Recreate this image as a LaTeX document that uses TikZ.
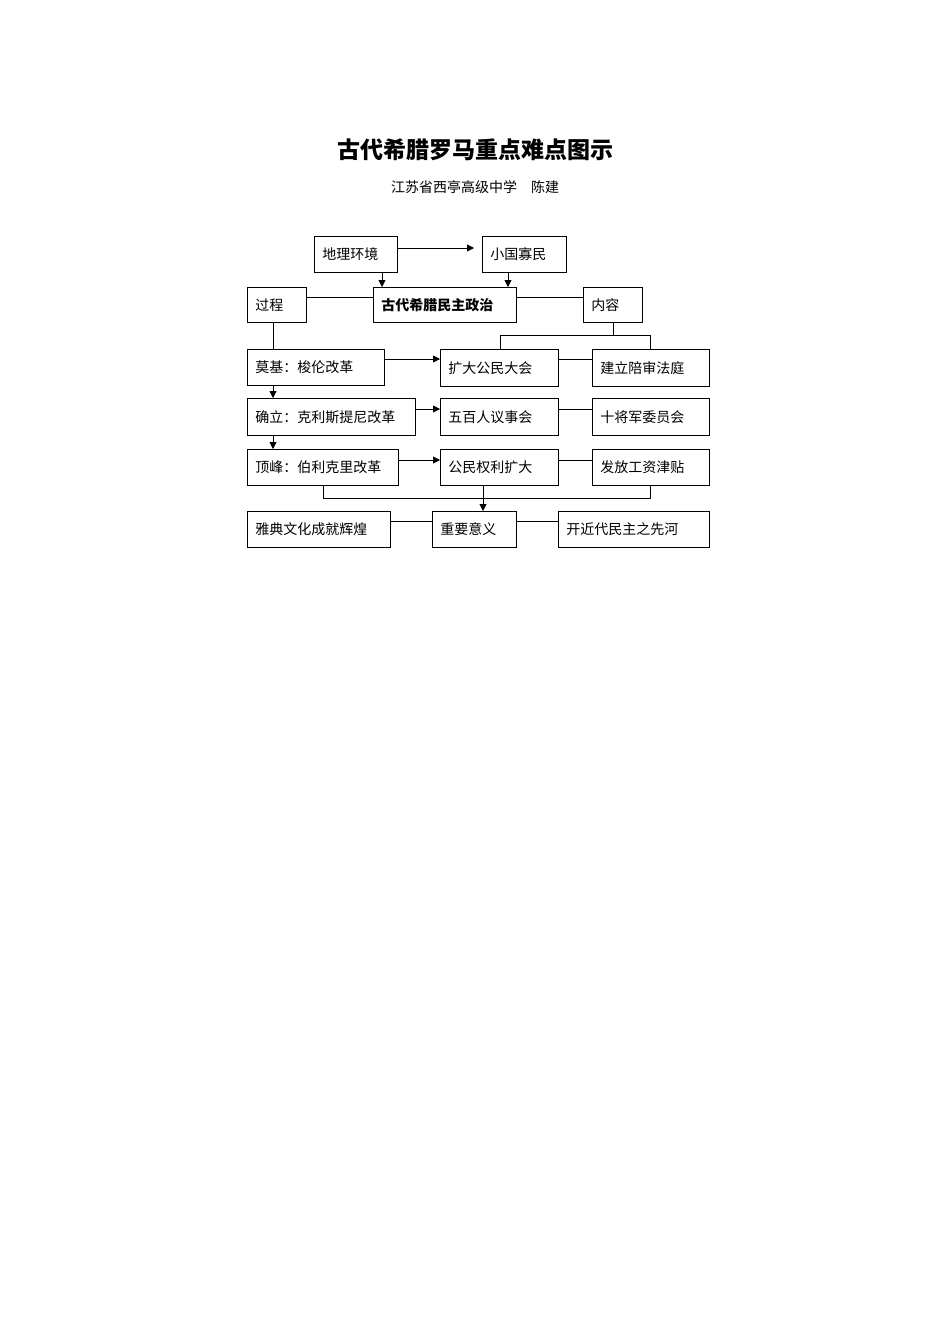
\documentclass[tikz,border=0pt]{standalone}
\usepackage{fontspec}
\newfontfamily\cjk{Noto Sans CJK SC}
\usetikzlibrary{arrows.meta}
\newcommand{\bx}[6]{\node[box,text width={#4-#2-16pt},minimum height={#5-#3},anchor=north west] (#1) at (#2,#3) {#6};}
\begin{document}
\begin{tikzpicture}[x=1pt,y=-1pt,
  box/.style={draw,line width=0.9pt,inner xsep=8pt,inner ysep=0pt,align=left,font=\cjk\fontsize{14}{16}\selectfont},
  ln/.style={line width=0.9pt},
  ar/.style={line width=0.9pt,-{Triangle[length=7pt,width=7pt]}}]
\useasboundingbox (0,0) rectangle (950,1344);
\node[font=\cjk\bfseries\fontsize{23}{26}\selectfont] (title) at (475,150) {古代希腊罗马重点难点图示};
\node[font=\cjk\fontsize{14}{16}\selectfont] (sub) at (475,187) {江苏省西亭高级中学\quad 陈建};
\bx{dl}{314}{236}{397}{272}{地理环境}
\bx{xg}{482}{236}{566}{272}{小国寡民}
\bx{gc}{247}{287}{306}{322}{过程}
\node[box,font=\cjk\bfseries\fontsize{14}{16}\selectfont,text width={143pt-16pt},minimum height=35pt,anchor=north west] (gd) at (373,287) {古代希腊民主政治};
\bx{nr}{583}{287}{642}{322}{内容}
\bx{dj}{247}{349}{384}{385}{莫基：梭伦改革}
\bx{kd}{440}{349}{558}{386}{扩大公民大会}
\bx{jl}{592}{349}{709}{386}{建立陪审法庭}
\bx{ql}{247}{398}{415}{435}{确立：克利斯提尼改革}
\bx{wb}{440}{398}{558}{435}{五百人议事会}
\bx{sj}{592}{398}{709}{435}{十将军委员会}
\bx{df}{247}{449}{398}{485}{顶峰：伯利克里改革}
\bx{gm}{440}{449}{558}{485}{公民权利扩大}
\bx{ff}{592}{449}{709}{485}{发放工资津贴}
\bx{yd}{247}{511}{390}{547}{雅典文化成就辉煌}
\bx{zy}{432}{511}{516}{547}{重要意义}
\bx{kj}{558}{511}{709}{547}{开近代民主之先河}
\coordinate (c1) at (474,248);
\draw[ar] (dl.east|-c1) -- (c1);
\draw[ar] (dl.south-|382,0) -- (gd.north-|382,0);
\draw[ar] (xg.south-|508,0) -- (gd.north-|508,0);
\draw[ln] (gc.east|-0,297) -- (gd.west|-0,297);
\draw[ln] (gd.east|-0,297) -- (nr.west|-0,297);
\draw[ln] (nr.south-|613,0) -- (613,335);
\draw[ln] (kd.north-|500,0) |- (650,335) -- (jl.north-|650,0);
\draw[ln] (gc.south-|273,0) -- (dj.north-|273,0);
\draw[ar] (dj.south-|273,0) -- (ql.north-|273,0);
\draw[ar] (ql.south-|273,0) -- (df.north-|273,0);
\draw[ar] (dj.east|-0,359) -- (kd.west|-0,359);
\draw[ar] (ql.east|-0,409) -- (wb.west|-0,409);
\draw[ar] (df.east|-0,460) -- (gm.west|-0,460);
\draw[ln] (kd.east|-0,359) -- (jl.west|-0,359);
\draw[ln] (wb.east|-0,409) -- (sj.west|-0,409);
\draw[ln] (gm.east|-0,460) -- (ff.west|-0,460);
\draw[ln] (df.south-|323,0) |- (650,498) -- (ff.south-|650,0);
\draw[ar] (gm.south-|483,0) -- (zy.north-|483,0);
\draw[ln] (yd.east|-0,521) -- (zy.west|-0,521);
\draw[ln] (zy.east|-0,521) -- (kj.west|-0,521);
\end{tikzpicture}
\end{document}
